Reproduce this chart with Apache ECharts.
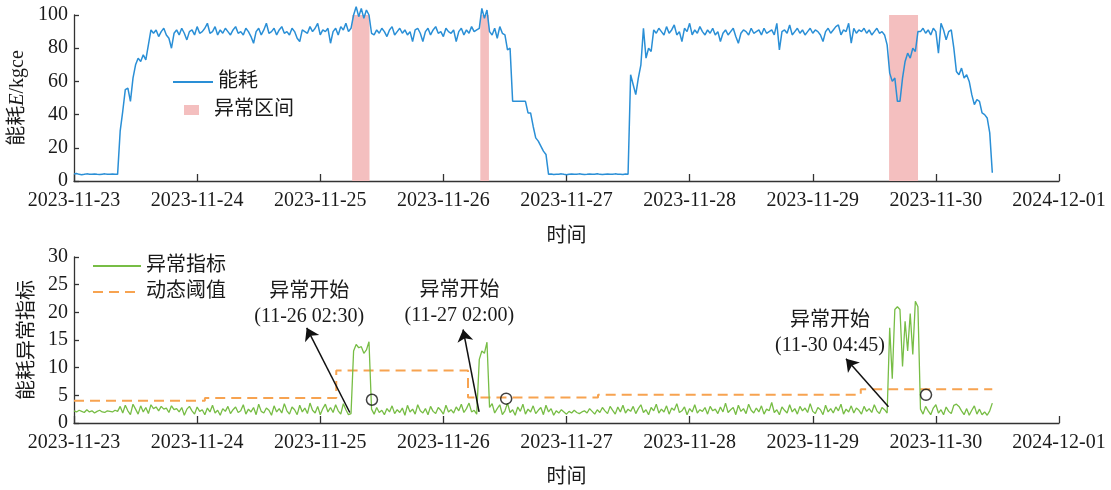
<!DOCTYPE html>
<html>
<head>
<meta charset="utf-8">
<title>能耗与异常指标</title>
<script src="https://cdn.jsdelivr.net/npm/echarts@6/dist/echarts.min.js"></script>
<style>
  html, body { margin: 0; padding: 0; background: #fff; }
  #main { width: 1111px; height: 490px; }
</style>
</head>
<body>
<div id="main"></div>
<script>
// 横轴刻度（原图最后一个就写成 2024-12-01）
const tickLabels = ['2023-11-23', '2023-11-24', '2023-11-25', '2023-11-26', '2023-11-27',
  '2023-11-28', '2023-11-29', '2023-11-30', '2024-12-01']
const stepDays = 1 / 48 // 每 30 分钟一个点

// 能耗 E/kgce
const energy = [
  4.2, 4.5, 4.0, 3.8, 4.0, 4.3, 4.1, 4.0, 4.2, 4.0, 3.9, 4.1, 4.3, 4.0, 4.0, 4.2, 4.1, 4.0,
  30, 42, 55, 56, 48, 62, 70, 74, 72, 76, 73, 82, 91,
  89, 91, 87, 90, 92, 88, 86, 80, 89, 91,
  88, 92, 89, 85, 90, 91, 88, 93, 89, 90,
  92, 95, 89, 90, 93, 88, 91, 89, 92, 90,
  88, 91, 93, 89, 90, 88, 92, 90, 87, 83,
  90, 92, 88, 91, 95, 89, 90, 92, 88, 91,
  93, 89, 90, 88, 92, 90, 86, 84, 91, 90,
  89, 93, 90, 92, 95, 88, 91, 90, 92, 83,
  90, 92, 88, 93, 91, 95, 90,
  92, 100, 105, 99, 104, 98, 103, 100, 89,
  88, 91, 89, 92, 90, 87, 91, 93, 88, 90,
  92, 89, 91, 88, 90, 84, 91, 92, 89, 84,
  90, 92, 88, 91, 93, 89, 90, 87, 92, 90,
  89, 91, 84, 90, 92, 88, 91, 89, 93, 90, 91,
  92, 104, 98, 103, 90,
  88, 92, 86, 93, 89,
  88, 79, 80, 48, 48, 48, 48, 48, 48, 41, 41, 33, 26, 24, 21, 18, 16, 4,
  4.2, 3.9, 4.0, 4.1, 4.3, 4.0, 3.8, 4.1, 4.2, 4.0,
  4.0, 4.3, 4.1, 3.9, 4.0, 4.2, 4.0, 4.1, 4.4, 4.0,
  3.9, 4.1, 4.2, 4.0, 4.0, 4.3, 4.1, 4.0, 3.9, 4.2, 4.1,
  64, 58, 52, 62, 70, 92, 74, 80, 78, 91,
  89, 92, 90, 88, 93, 89, 91, 94, 88, 90,
  84, 92, 90, 95, 88, 91, 89, 93, 90, 88,
  91, 89, 92, 88, 90, 84, 89, 91, 88, 90,
  92, 87, 83, 89, 91, 90, 88, 92, 89, 90,
  91, 88, 92, 89, 90, 91, 88, 95, 79, 90,
  91, 89, 94, 88, 90, 92, 89, 91, 88, 90,
  92, 89, 91, 90, 88, 84, 90, 92, 89, 91,
  93, 94, 88, 91, 90, 95, 83, 92, 89, 91,
  90, 92, 89, 91, 88, 90, 92, 89, 90,
  88, 82, 65, 60, 62, 48, 48, 62, 72, 77, 74, 80, 78, 90,
  90, 92, 89, 91, 88, 92, 90, 77, 95, 91,
  85, 90, 91, 80, 66, 64, 68, 62, 64, 60, 52, 46, 49, 48, 41, 40, 38, 29, 5
]

// 能耗异常指标
const indicator = [
  2.2, 2.0, 2.3, 2.1, 1.9, 2.4, 2.0, 2.2, 1.8, 2.1, 2.3, 2.0, 1.9, 2.2, 2.1, 2.0, 2.3, 2.1,
  3.0, 1.8, 3.2, 2.2, 1.5, 3.4, 2.5, 1.6, 3.1, 2.0, 2.8, 1.7, 3.3,
  2.6, 2.9, 2.2, 3.0, 2.5, 2.7, 1.9, 3.1, 2.4, 2.6,
  2.0, 2.8, 1.4, 2.5, 3.0, 2.2, 1.6, 2.9, 2.1, 2.4,
  1.5, 2.7, 2.0, 3.2, 1.8, 2.3, 1.4, 2.6, 2.1, 3.0,
  1.7, 2.4, 2.9, 1.9, 2.2, 3.3, 1.6, 2.5, 2.0, 2.8,
  1.5, 3.4, 2.1, 1.8, 2.7, 2.3, 1.4, 3.1, 2.0, 2.6,
  1.8, 3.5, 2.2, 1.6, 2.9, 2.4, 1.5, 3.2, 2.0, 2.7,
  1.7, 3.6, 2.3, 1.8, 3.0, 1.5, 2.6, 3.4, 2.0, 2.8,
  1.9, 3.3, 2.2, 1.6, 3.5, 2.4, 1.5,
  1.7, 13, 14.2, 13.6, 13.8, 12.6, 13.2, 14.7, 2.5,
  1.6, 2.8, 1.9, 2.3, 1.5, 2.6, 2.0, 3.1, 1.7, 2.4,
  1.9, 2.7, 1.4, 3.2, 2.0, 2.5, 1.6, 3.3, 2.2, 1.8,
  2.6, 1.5, 3.0, 2.1, 1.7, 2.8, 2.3, 1.6, 3.2, 2.0,
  2.4, 1.8, 2.9, 2.2, 3.4, 1.9, 2.6, 3.6, 2.0, 2.3, 1.6,
  11.5, 13, 12.6, 14.6, 2.8,
  3.5, 1.8, 2.6, 3.3, 1.5, 2.2, 3.6, 1.9, 2.4, 1.4,
  2.9, 2.1, 3.4, 1.6, 2.5, 2.0, 3.1, 1.7, 2.3, 2.8,
  1.5, 3.2, 2.0, 2.6, 1.4, 2.2, 1.8, 2.4, 2.0, 1.6,
  2.1, 1.8, 2.3, 1.9, 1.7, 2.0, 2.2, 1.8, 2.6, 2.1,
  1.6, 2.4, 1.9, 2.8, 2.2, 1.7, 3.0, 2.3, 1.6, 2.9,
  2.0, 3.2, 1.8, 2.5,
  2.1, 3.0, 1.7, 2.6, 3.3, 1.9, 2.4, 1.5, 2.8, 2.2,
  3.4, 1.8, 2.5, 2.0, 3.1, 1.6, 2.7, 2.3, 3.5, 1.9,
  2.2, 2.9, 1.5, 2.6, 2.0, 3.3, 1.8, 2.4, 2.1, 2.8,
  1.6, 3.0, 2.2, 2.5, 1.7, 2.9, 2.0, 3.6, 1.9, 2.4,
  2.8, 1.5, 3.2, 2.1, 2.6, 1.7, 3.4, 2.3, 1.8, 2.7,
  2.0, 3.1, 1.6, 2.5, 2.2, 3.7, 1.9, 2.4, 1.5, 2.9,
  2.3, 1.8, 3.3, 2.0, 2.6, 1.6, 3.0, 2.2, 2.7, 1.9,
  3.5, 2.1, 1.7, 2.8, 2.4, 1.5, 3.2, 2.0, 2.6, 1.8,
  2.9, 2.2, 3.4, 1.6, 2.5, 2.0, 3.1, 1.8, 2.7, 2.3,
  1.6, 3.0, 2.1, 2.6, 1.9, 3.3, 2.2, 1.7, 2.8, 2.4,
  1.8,
  17.2, 8.0, 20.5, 21, 20.5, 10.2, 18.4, 13, 19.8, 12.4, 22, 21,
  2.5,
  1.6, 3.0, 2.2, 1.5, 2.7, 3.3, 1.8, 2.4, 1.5, 2.9,
  2.1, 1.7, 3.2, 3.4, 3.0, 2.2, 1.5, 2.6, 1.4, 2.3,
  3.1, 1.6, 2.5, 1.5, 2.0, 1.4, 2.2, 3.6
]

// 动态阈值（分段常数）
const thrDays = [0, 1.063, 2.13, 3.20, 4.256, 6.39, 7.458]
const thrValues = [4.0, 4.5, 9.5, 4.6, 5.1, 6.1, 6.1]

// 异常区间（天）
const anomalyRanges = [[2.259, 2.40], [3.30, 3.37], [6.62, 6.855]]

// 异常结束处的圆圈
const circleDays = [2.42, 3.51, 6.92]
const circleValues = [4.2, 4.4, 5.1]

// 标注
const noteText = ['异常开始\n(11-26 02:30)', '异常开始\n(11-27 02:00)', '异常开始\n(11-30 04:45)']
const noteAt = [[1.91, 21.4], [3.13, 21.7], [6.14, 16.2]]
const arrowFrom = [[2.24, 1.9], [3.29, 2.0], [6.615, 2.95]]
const arrowTo = [[1.89, 17.2], [3.16, 16.9], [6.27, 11.6]]

const FONT = '"Liberation Serif", "Times New Roman", "Noto Sans CJK SC", serif'
const TEXT = '#1a1a1a'
const AXIS = '#333'
const FS = 20

function toPoints(arr) {
  return arr.map((v, i) => [i * stepDays, v])
}

function xAxisOpt(gridIndex, gap) {
  return {
    type: 'value', gridIndex: gridIndex, min: 0, max: 8, interval: 1,
    name: '时间', nameLocation: 'middle', nameGap: gap, nameMoveOverlap: false,
    nameTextStyle: { fontFamily: FONT, fontSize: FS, color: TEXT },
    axisLine: { lineStyle: { color: AXIS, width: 1.3 } },
    axisTick: { inside: true, length: 7, lineStyle: { color: AXIS, width: 1.3 } },
    axisLabel: {
      margin: 10, fontFamily: FONT, fontSize: FS, color: TEXT,
      formatter: v => tickLabels[Math.round(v)]
    },
    splitLine: { show: false }
  }
}

function yAxisOpt(gridIndex, max, interval, name, gap, rich) {
  return {
    type: 'value', gridIndex: gridIndex, min: 0, max: max, interval: interval,
    name: name, nameLocation: 'middle', nameGap: gap, nameRotate: 90, nameMoveOverlap: false,
    nameTextStyle: { fontFamily: FONT, fontSize: FS, color: TEXT, rich: rich },
    axisLine: { show: true, lineStyle: { color: AXIS, width: 1.3 } },
    axisTick: { show: true, inside: true, length: 5, lineStyle: { color: AXIS, width: 1.3 } },
    axisLabel: { margin: 6, fontFamily: FONT, fontSize: FS, color: TEXT },
    splitLine: { show: false }
  }
}

const legendText = pad => ({ fontFamily: FONT, fontSize: FS, color: TEXT, padding: [0, 0, 0, pad] })

const chart = echarts.init(document.getElementById('main'))
chart.setOption({
  animation: false,
  backgroundColor: '#fff',
  grid: [
    { left: 74, right: 52, top: 15, bottom: 309, outerBoundsMode: 'none' },
    { left: 74, right: 52, top: 257, bottom: 67, outerBoundsMode: 'none' }
  ],
  xAxis: [xAxisOpt(0, 46), xAxisOpt(1, 45)],
  yAxis: [
    yAxisOpt(0, 100, 20, '能耗{i|E}/kgce', 46.5, { i: { fontFamily: FONT, fontSize: FS, fontStyle: 'italic', color: TEXT } }),
    yAxisOpt(1, 30, 5, '能耗异常指标', 36)
  ],
  legend: [
    {
      data: ['能耗'], left: 167, top: 67, itemWidth: 40, itemHeight: 14,
      itemStyle: { opacity: 0 },
      selectedMode: false, textStyle: legendText(0)
    },
    {
      data: [{ name: '异常区间', icon: 'rect' }], left: 179, top: 95, itemWidth: 15, itemHeight: 10,
      selectedMode: false, textStyle: legendText(10)
    },
    {
      data: ['异常指标', '动态阈值'], orient: 'vertical', left: 87, top: 251,
      itemWidth: 48, itemHeight: 14, itemGap: 6,
      itemStyle: { opacity: 0 },
      selectedMode: false, textStyle: legendText(0)
    }
  ],
  series: [
    {
      name: '异常区间', type: 'line', xAxisIndex: 0, yAxisIndex: 0, data: [],
      symbol: 'none', z: 1,
      itemStyle: { color: '#f4bfbf' }, lineStyle: { color: '#f4bfbf' },
      markArea: {
        silent: true,
        itemStyle: { color: '#f4bfbf', opacity: 1 },
        data: anomalyRanges.map(r => [{ xAxis: r[0], yAxis: 0 }, { xAxis: r[1], yAxis: 100 }])
      }
    },
    {
      name: '能耗', type: 'line', xAxisIndex: 0, yAxisIndex: 0,
      data: toPoints(energy), symbol: 'none', clip: false, z: 3,
      itemStyle: { color: '#2a8fd6' },
      lineStyle: { color: '#2a8fd6', width: 1.5 }
    },
    {
      name: '动态阈值', type: 'line', xAxisIndex: 1, yAxisIndex: 1, step: 'end',
      data: thrDays.map((d, i) => [d, thrValues[i]]), symbol: 'none', z: 2,
      itemStyle: { color: '#f7a350' },
      lineStyle: { color: '#f7a350', width: 2, type: [10, 6] }
    },
    {
      name: '异常指标', type: 'line', xAxisIndex: 1, yAxisIndex: 1,
      data: toPoints(indicator), symbol: 'none', z: 3,
      itemStyle: { color: '#77bd45' },
      lineStyle: { color: '#77bd45', width: 1.3 },
      markLine: {
        silent: true, symbol: ['none', 'arrow'], symbolSize: 12,
        lineStyle: { color: '#111', width: 1.5, type: 'solid' },
        itemStyle: { color: '#111' },
        label: { show: false },
        data: arrowFrom.map((f, i) => [{ coord: f }, { coord: arrowTo[i] }])
      },
      markPoint: {
        silent: true, symbol: 'circle', symbolSize: 1,
        itemStyle: { color: 'rgba(0,0,0,0)' },
        label: {
          show: true, position: 'inside', color: TEXT, fontFamily: FONT,
          fontSize: FS, lineHeight: 25, align: 'center',
          formatter: p => noteText[p.dataIndex]
        },
        data: noteAt.map(c => ({ coord: c }))
      }
    },
    {
      name: '异常结束', type: 'scatter', xAxisIndex: 1, yAxisIndex: 1,
      data: circleDays.map((d, i) => [d, circleValues[i]]),
      symbol: 'circle', symbolSize: 11, z: 4,
      itemStyle: { color: 'rgba(0,0,0,0)', borderColor: '#111', borderWidth: 1.5 }
    }
  ]
})
</script>
</body>
</html>
